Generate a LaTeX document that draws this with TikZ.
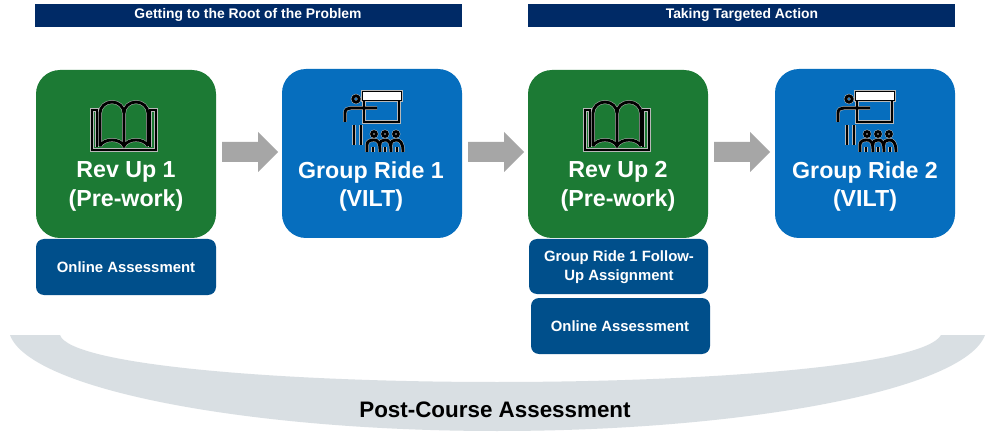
\documentclass[tikz,border=0pt]{standalone}
\usepackage{fontspec}
\setmainfont{Liberation Sans}
\usetikzlibrary{calc}
\definecolor{cgreen}{HTML}{1C7A34}
\definecolor{cblue}{HTML}{066EBE}
\definecolor{cnavy}{HTML}{004F8B}
\definecolor{cbanner}{HTML}{002A66}
\definecolor{carrow}{HTML}{A6A6A6}
\definecolor{cband}{HTML}{D9DFE3}
\tikzset{
  x=1pt,y=-1pt,
  maintext/.style={text=white,font=\fontsize{23.2}{28.5}\bfseries\selectfont,align=center},
  subtext/.style={text=white,font=\fontsize{14.9}{19.5}\bfseries\selectfont,align=center},
  bannertext/.style={white,font=\fontsize{13.9}{16}\bfseries\selectfont},
  halo/.style={draw=white!72!black,line width=3.8pt},
  ink/.style={draw=black,line width=2.8pt},
}
\newcommand{\bookpaths}[1]{%
  \draw[#1] (7,47) -- (7,10) -- (2,10) -- (2,50) -- (66,50) -- (66,10) -- (60,10) -- (60,47);
  \draw[#1] (10,46) -- (10,13) arc[start angle=180,end angle=360,x radius=12,y radius=11] -- (34,46);
  \draw[#1] (34,13) arc[start angle=180,end angle=360,x radius=12,y radius=11] -- (58,46);
  \draw[#1] (10,46) .. controls (14,38) and (30,38) .. (34,46) .. controls (38,38) and (54,38) .. (58,46);
}
\newcommand{\bookicon}[2]{\begin{scope}[shift={(#1,#2)}]
  \bookpaths{halo}\bookpaths{ink}
\end{scope}}
\newcommand{\teachpaths}[1]{%
  \draw[#1] (21,10) rectangle (56,32);
  \draw[#1] (20,2) rectangle (58,10);
  \draw[#1] (2,32) -- (2,23) .. controls (2,19) and (5,18) .. (8,18) -- (34,18);
  \draw[#1] (11,35) -- (11,55);
  \draw[#1] (18,35) -- (18,55);
  \draw[#1] (13,9) circle[radius=3.2];
  \foreach \cx in {31,42,53} {\draw[#1] (\cx,44) circle[radius=2.4];}
  \draw[#1] (24,62) -- (24,55) .. controls (24,51) and (27,50) .. (31,50) .. controls (35,50) and (37,52) .. (37,62);
  \draw[#1] (37,55) .. controls (37,51) and (39,50) .. (42,50) .. controls (46,50) and (48,52) .. (48,62);
  \draw[#1] (48,55) .. controls (48,51) and (50,50) .. (53,50) .. controls (57,50) and (60,52) .. (60,62);
  \draw[#1] (30,62) -- (30,57);
  \draw[#1] (42,62) -- (42,57);
  \draw[#1] (54,62) -- (54,57);
}
\newcommand{\teachicon}[2]{\begin{scope}[shift={(#1,#2)}]
  \teachpaths{halo}\teachpaths{ink}
  \fill[white] (20,2) rectangle (58,10);
\end{scope}}
\newcommand{\blockarrow}[1]{%
  \fill[carrow] ($(#1)+(-28,-10)$) -- ++(36,0) -- ++(0,-10) -- ++(20,20) -- ++(-20,20) -- ++(0,-10) -- ++(-36,0) -- cycle;}
\begin{document}
\begin{tikzpicture}
\useasboundingbox (0,0) rectangle (989,433);
\fill[white] (0,0) rectangle (989,433);
% band
\fill[cband] (10,335) .. controls (30,390) and (250,431) .. (497,431) .. controls (745,431) and (965,390) .. (985,335)
  -- (941,335) .. controls (925,365) and (715,382) .. (497,382) .. controls (280,382) and (70,365) .. (60,335) -- cycle;
\node[font=\fontsize{22.4}{26}\bfseries\selectfont] (post) at (495,410) {Post-Course Assessment};
% banners
\fill[cbanner] (35,4) rectangle (462,27);
\fill[cbanner] (528,4) rectangle (955,27);
\node[bannertext] (b1t) at (248,14.5) {Getting to the Root of the Problem};
\node[bannertext] (b2t) at (742,14.5) {Taking Targeted Action};
% main boxes
\fill[cgreen,rounded corners=24pt] (36,70) rectangle (216,238);
\fill[cblue,rounded corners=24pt] (282,69) rectangle (462,238);
\fill[cgreen,rounded corners=24pt] (528,70) rectangle (708,238);
\fill[cblue,rounded corners=24pt] (775,69) rectangle (955,238);
\node[maintext] (r1) at (126,186.5) {Rev Up 1\\(Pre-work)};
\node[maintext] (g1) at (371,186.5) {Group Ride 1\\(VILT)};
\node[maintext] (r2) at (618,186.5) {Rev Up 2\\(Pre-work)};
\node[maintext] (g2) at (865,186.5) {Group Ride 2\\(VILT)};
\bookicon{90}{100}
\teachicon{343}{90}
\bookicon{583}{100}
\teachicon{836}{90}
% arrows
\coordinate (a1) at (250,152);
\coordinate (a2) at (496,152);
\coordinate (a3) at (742,152);
\blockarrow{a1}\blockarrow{a2}\blockarrow{a3}
% sub boxes
\fill[cnavy,rounded corners=8pt] (36,239) rectangle (216,295);
\fill[cnavy,rounded corners=8pt] (529,239) rectangle (708,294);
\fill[cnavy,rounded corners=8pt] (531,298) rectangle (710,354);
\node[subtext] (s1) at (126,267) {Online Assessment};
\node[subtext] (s2) at (619,267) {Group Ride 1 Follow-\\Up Assignment};
\node[subtext] (s3) at (620,326) {Online Assessment};
\end{tikzpicture}
\end{document}
